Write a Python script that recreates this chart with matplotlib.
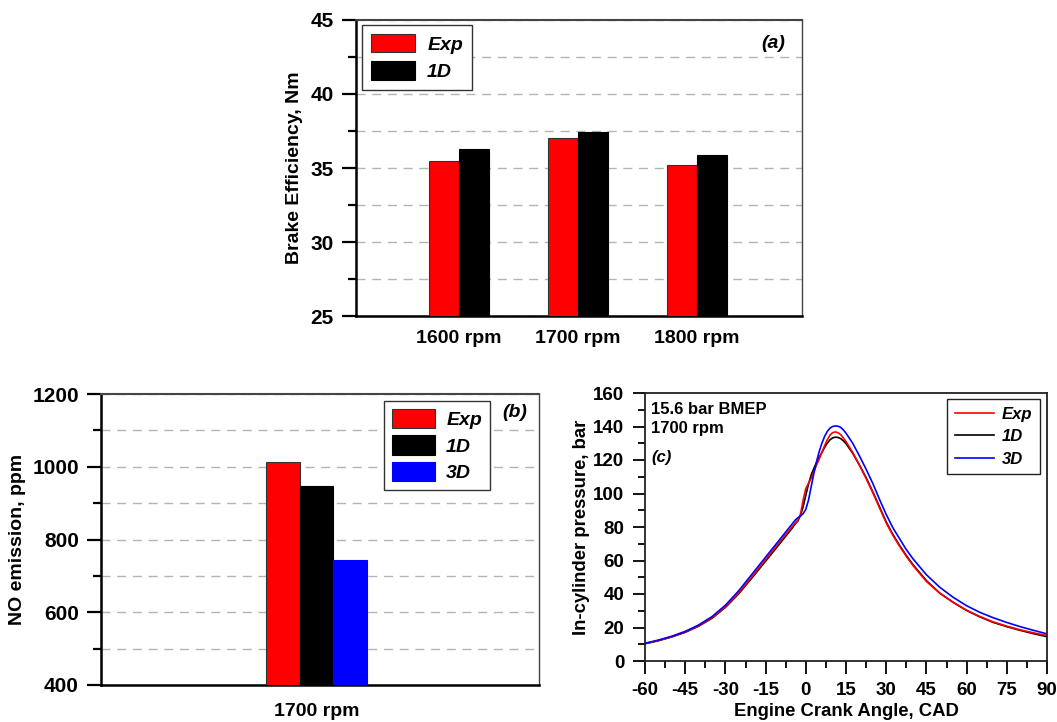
import matplotlib
matplotlib.use('Agg')
import matplotlib.pyplot as plt
from matplotlib.ticker import MultipleLocator

plt.rcParams['font.family'] = ['Liberation Sans', 'DejaVu Sans']
plt.rcParams['font.weight'] = 'bold'
plt.rcParams['axes.unicode_minus'] = False

# ---------------- data ----------------
speeds_a = ['1600 rpm', '1700 rpm', '1800 rpm']
torque_exp = [35.45, 37.0, 35.2]
torque_1d = [36.3, 37.45, 35.9]

speed_b = ['1700 rpm']
no_exp = [1013]
no_1d = [947]
no_3d = [745]

cad = [-60, -55, -50, -45, -40, -35, -30, -25, -20, -15, -10, -7, -5, -4, -3, -2, -1,
       0, 1, 2, 3, 4, 5, 6, 7, 8, 9, 10, 11, 12, 13, 14, 15, 17.5, 20, 22.5, 25,
       27.5, 30, 32.5, 35, 37.5, 40, 45, 50, 55, 60, 65, 70, 75, 80, 85, 90]
p_exp = [10.4, 12.2, 14.5, 17.3, 21.0, 25.8, 32.3, 40.7, 50.5, 60.5, 70.5, 76.5, 80.3, 82.3, 84.0, 87.5, 96.0,
         103.0, 106.0, 109.0, 113.0, 117.0, 120.5, 124.5, 128.5, 132.0, 134.8, 136.3, 136.8, 136.3, 135.2, 133.2, 131.0, 124.5, 117.0, 109.0, 100.5,
         91.5, 82.5, 75.0, 68.5, 62.5, 57.0, 47.5, 40.5, 35.0, 30.3, 26.5, 23.3, 20.8, 18.6, 16.8, 15.2]
p_1d = [10.3, 12.1, 14.4, 17.1, 20.8, 25.5, 32.0, 40.2, 49.8, 59.6, 69.5, 75.5, 79.5, 81.8, 83.5, 87.0, 92.0,
        99.0, 105.5, 111.0, 115.0, 118.5, 121.5, 124.5, 127.5, 130.0, 132.0, 133.2, 133.6, 133.5, 132.8, 131.5, 129.8, 124.0, 117.0, 109.5, 101.0,
        92.0, 83.0, 75.5, 69.0, 63.0, 57.5, 48.0, 40.5, 35.0, 30.2, 26.3, 23.0, 20.5, 18.3, 16.3, 14.5]
p_3d = [10.6, 12.5, 14.8, 17.7, 21.5, 26.5, 33.3, 42.0, 52.0, 62.0, 72.0, 78.0, 82.0, 84.0, 85.5, 86.5, 88.0,
        90.5, 96.0, 104.0, 112.0, 119.0, 125.0, 130.0, 134.0, 137.0, 139.0, 140.0, 140.3, 140.2, 139.5, 138.0, 136.0, 130.0, 122.5, 114.5, 106.0,
        96.5, 87.5, 79.5, 73.0, 66.5, 61.0, 51.5, 44.0, 38.0, 33.0, 29.0, 25.8, 23.0, 20.5, 18.3, 16.2]

# ---------------- figure ----------------
W, H = 1057, 722
fig = plt.figure(figsize=(W / 100, H / 100), dpi=100)


def ax_px(l, t, r, b):
    return fig.add_axes([l / W, 1 - b / H, (r - l) / W, (b - t) / H])


axa = ax_px(356, 20, 802, 316)
axb = ax_px(101, 394, 539, 685)
axc = ax_px(645, 393, 1047, 661)

RED = '#ff0000'
BLUE = '#0000ff'
GRID = dict(color='#b4b4b4', lw=1.0, ls=(0, (6.5, 4.8)))
leg_font = dict(weight='bold', style='italic', size=14)


def style_bar_axes(ax):
    ax.set_axisbelow(True)
    ax.yaxis.grid(True, which='both', **GRID)
    ax.xaxis.grid(False)
    ax.spines['left'].set_linewidth(1.8)
    ax.spines['bottom'].set_linewidth(1.8)
    ax.spines['left'].set_color('black')
    ax.spines['bottom'].set_color('black')
    ax.spines['top'].set_linewidth(1.5)
    ax.spines['top'].set_color('#444444')
    ax.spines['right'].set_linewidth(1.0)
    ax.spines['right'].set_color('#444444')
    ax.tick_params(axis='x', length=0, labelsize=14)
    ax.tick_params(axis='y', which='major', direction='out', length=10, width=1.6, labelsize=15, pad=6)
    ax.tick_params(axis='y', which='minor', direction='out', length=5.8, width=1.6)


# ---------- (a) ----------
xa = list(range(1, len(speeds_a) + 1))
bw = 0.25
axa.bar([v - bw / 2 for v in xa], torque_exp, bw, color=RED, edgecolor='#333333', lw=0.8, label='Exp', zorder=3)
axa.bar([v + bw / 2 for v in xa], torque_1d, bw, color='black', edgecolor='black', lw=0.8, label='1D', zorder=3)
axa.set_xlim(0.135, 3.88)
axa.set_ylim(25, 45)
axa.yaxis.set_major_locator(MultipleLocator(5))
axa.yaxis.set_minor_locator(MultipleLocator(2.5))
axa.set_xticks(xa, speeds_a)
style_bar_axes(axa)
axa.tick_params(axis='x', pad=10)
axa.set_ylabel('Brake Efficiency, Nm', fontsize=14, weight='bold', va='center')
axa.yaxis.set_label_coords(-0.137, 0.5)
la = axa.legend(loc='upper left', bbox_to_anchor=(0.0135, 0.983), prop=leg_font, handlelength=2.3,
                handleheight=1.1, labelspacing=0.38, handletextpad=0.6, borderpad=0.45, borderaxespad=0,
                fancybox=False, edgecolor='#333333', framealpha=1)
la.get_frame().set_linewidth(1.0)
axa.text(0.935, 0.919, '(a)', transform=axa.transAxes, ha='center', va='center', fontsize=14,
         style='italic', weight='bold')

# ---------- (b) ----------
xb = list(range(len(speed_b)))
wb = 0.153
axb.bar([v - wb for v in xb], no_exp, wb, color=RED, edgecolor='#333333', lw=0.8, label='Exp', zorder=3)
axb.bar(xb, no_1d, wb, color='black', edgecolor='black', lw=0.8, label='1D', zorder=3)
axb.bar([v + wb for v in xb], no_3d, wb, color=BLUE, edgecolor=BLUE, lw=0.8, label='3D', zorder=3)
axb.set_xlim(-0.985, 1.015)
axb.set_ylim(400, 1200)
axb.yaxis.set_major_locator(MultipleLocator(200))
axb.yaxis.set_minor_locator(MultipleLocator(100))
axb.set_xticks(xb, speed_b)
style_bar_axes(axb)
axb.tick_params(axis='x', pad=13)
axb.set_ylabel('NO emission, ppm', fontsize=14, weight='bold', va='center')
axb.yaxis.set_label_coords(-0.19, 0.5)
lb = axb.legend(loc='upper left', bbox_to_anchor=(0.646, 0.976), prop=leg_font, handlelength=2.2,
                handleheight=1.15, labelspacing=0.33, handletextpad=0.6, borderpad=0.4, borderaxespad=0,
                fancybox=False, edgecolor='#333333', framealpha=1)
lb.get_frame().set_linewidth(1.0)
axb.text(0.945, 0.938, '(b)', transform=axb.transAxes, ha='center', va='center', fontsize=14,
         style='italic', weight='bold')

# ---------- (c) ----------
l1, = axc.plot(cad, p_1d, color='black', lw=1.2, label='1D')
l0, = axc.plot(cad, p_exp, color=RED, lw=1.2, label='Exp')
l2, = axc.plot(cad, p_3d, color=BLUE, lw=1.2, label='3D')
axc.set_xlim(-60, 90)
axc.set_ylim(0, 160)
axc.xaxis.set_major_locator(MultipleLocator(15))
axc.xaxis.set_minor_locator(MultipleLocator(7.5))
axc.yaxis.set_major_locator(MultipleLocator(20))
axc.yaxis.set_minor_locator(MultipleLocator(10))
for s in axc.spines.values():
    s.set_linewidth(1.3)
    s.set_color('#222222')
axc.tick_params(which='major', direction='out', length=9, width=1.3, labelsize=13.5, pad=6)
axc.tick_params(which='minor', direction='out', length=5, width=1.3)
axc.set_xlabel('Engine Crank Angle, CAD', fontsize=13.3, weight='bold', va='center')
axc.xaxis.set_label_coords(0.5, -0.19)
axc.set_ylabel('In-cylinder pressure, bar', fontsize=13.3, weight='bold', va='center')
axc.yaxis.set_label_coords(-0.157, 0.5)
lc = axc.legend([l0, l1, l2], ['Exp', '1D', '3D'], loc='upper right', bbox_to_anchor=(0.9826, 0.9776),
                prop=dict(weight='bold', style='italic', size=12), handlelength=2.35, labelspacing=0.45,
                handletextpad=0.5, borderpad=0.45, borderaxespad=0, fancybox=False,
                edgecolor='#222222', framealpha=1)
lc.get_frame().set_linewidth(1.0)
axc.text(0.015, 0.937, '15.6 bar BMEP', transform=axc.transAxes, ha='left', va='center', fontsize=12,
         weight='bold')
axc.text(0.015, 0.866, '1700 rpm', transform=axc.transAxes, ha='left', va='center', fontsize=12,
         weight='bold')
axc.text(0.015, 0.761, '(c)', transform=axc.transAxes, ha='left', va='center', fontsize=12,
         weight='bold', style='italic')

fig.savefig('out.png', dpi=100)
